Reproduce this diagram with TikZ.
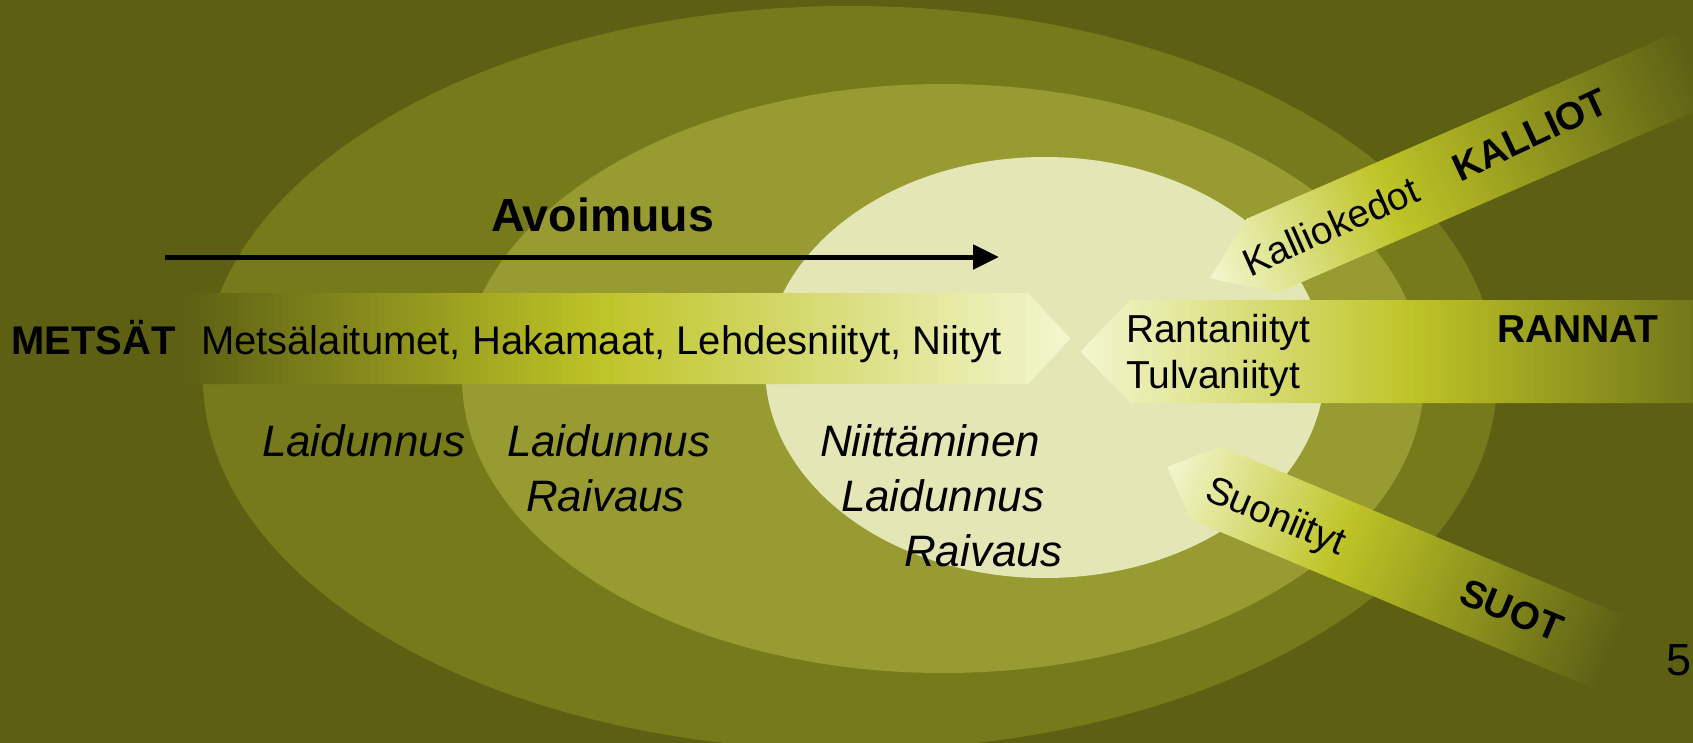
\documentclass[tikz,border=0pt]{standalone}
\usepackage{fontspec}
\setmainfont{Liberation Sans}
\usetikzlibrary{arrows.meta}
\definecolor{bgc}{RGB}{93,95,19}
\definecolor{outerc}{RGB}{119,122,26}
\definecolor{midc}{RGB}{151,155,50}
\definecolor{innerc}{RGB}{228,231,181}
\definecolor{bandpale}{RGB}{243,246,205}
\definecolor{bandbright}{RGB}{190,196,38}
\definecolor{banddark}{RGB}{93,96,20}
\definecolor{bandmid}{RGB}{112,116,25}
% #1 tip point, #2 angle, #3 tip length, #4 half width, #5 length, #6 bright position, #7 end colour
\newcommand\gradband[7]{%
\begin{scope}[shift={#1}, rotate=#2]
  \clip (0,0) -- (#3,-#4) -- (#5,-#4) -- (#5,#4) -- (#3,#4) -- cycle;
  \foreach \k in {0,...,119}{%
    \pgfmathsetmacro\bu{#5/120*\k}%
    \pgfmathsetmacro\bt{\k/119}%
    \pgfmathtruncatemacro\bseg{\bt<#6 ? 0 : 1}%
    \ifnum\bseg=0
      \pgfmathtruncatemacro\bm{100*\bt/#6}%
      \colorlet{bandcur}{bandbright!\bm!bandpale}%
    \else
      \pgfmathtruncatemacro\bm{100*(\bt-#6)/(1-#6)}%
      \colorlet{bandcur}{#7!\bm!bandbright}%
    \fi
    \fill[bandcur] (\bu,-#4-1) rectangle ++(#5/120+1.5,2*#4+2);
  }
\end{scope}}
\begin{document}
\begin{tikzpicture}[x=1pt,y=-1pt,
  txt/.style={inner sep=0pt, outer sep=0pt, anchor=base west, text=black},
  t40/.style={txt, font=\fontsize{40}{48}\selectfont},
  t40b/.style={txt, font=\fontsize{40}{48}\selectfont\bfseries},
  t39/.style={txt, font=\fontsize{39}{46}\selectfont},
  t39b/.style={txt, font=\fontsize{39}{46}\selectfont\bfseries},
  t38/.style={txt, font=\fontsize{38.5}{46}\selectfont},
  t38b/.style={txt, font=\fontsize{38.5}{46}\selectfont\bfseries},
  t45/.style={txt, font=\fontsize{45}{54}\selectfont},
  t45b/.style={txt, font=\fontsize{46.5}{55}\selectfont\bfseries},
  ti/.style={txt, font=\fontsize{44}{53}\selectfont\itshape},
  arr/.style={line width=5pt, -{Triangle[length=26pt,width=24pt]}}]
\useasboundingbox (0,0) rectangle (1693,742);
\clip (-3,-3) rectangle (1696,745);
\fill[bgc] (-3,-3) rectangle (1696,745);
\fill[outerc] (850,378) ellipse [x radius=647pt, y radius=372pt];
\fill[midc] (943,378.5) ellipse [x radius=481pt, y radius=294.5pt];
\fill[innerc] (1045,367.5) ellipse [x radius=280pt, y radius=210.5pt];
% bands
\gradband{(1070.5,338.5)}{180}{42.5}{45.5}{884.5}{0.53}{banddark}
\gradband{(1210,278.3)}{23.46}{57}{40}{530}{0.37}{banddark}
\gradband{(1080.5,351.5)}{0}{50}{51.5}{625}{0.53}{bandmid}
\gradband{(1167.3,466.7)}{-22.8}{42}{39.5}{482}{0.39}{banddark}
% arrow
\node[t45b] (avo) at (491,231) {Avoimuus};
\coordinate (avs) at (165,257);
\coordinate (ave) at (999,257);
\draw[arr] (avs) -- (ave);
% texts
\node[t40b] (metsat) at (11,354) {METSÄT};
\node[t40] (metsl) at (201,354) {Metsälaitumet, Hakamaat, Lehdesniityt, Niityt};
\node[ti] (l1) at (262,456) {Laidunnus};
\node[ti] (l2) at (507,456) {Laidunnus};
\node[ti] (r2) at (526,511) {Raivaus};
\node[ti] (n3) at (820,456) {Niittäminen};
\node[ti] (l3) at (841,511) {Laidunnus};
\node[ti] (r3) at (904,566) {Raivaus};
\node[t39] (ran) at (1126,342) {Rantaniityt};
\node[t39] (tul) at (1126,388) {Tulvaniityt};
\node[t39b] (rannat) at (1497,342) {RANNAT};
\node[t38, rotate=24] (kk) at (1250,277) {Kalliokedot};
\node[t38b, rotate=25] (kal) at (1460,182) {KALLIOT};
\node[t38, rotate=-22.5] (suon) at (1203,499) {Suoniityt};
\node[t38b, rotate=-22.5] (suot) at (1457,602) {SUOT};
\node[t45] (pg) at (1666,675) {5};
\end{tikzpicture}
\end{document}
